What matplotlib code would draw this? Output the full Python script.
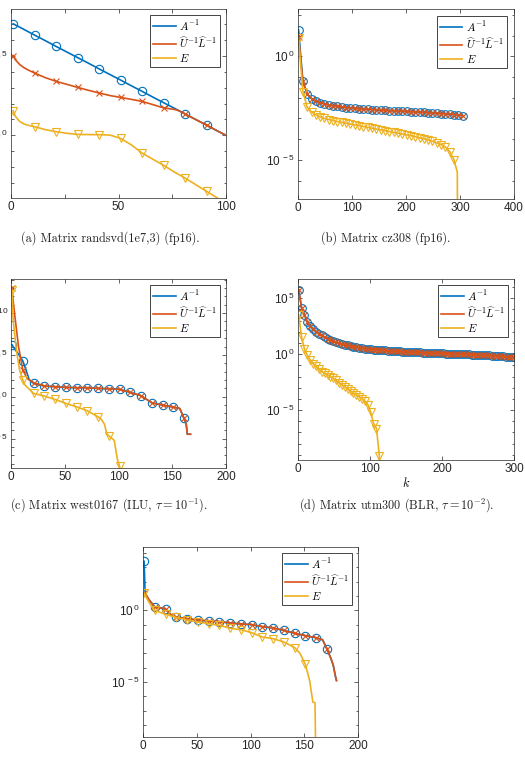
import numpy as np
import matplotlib
matplotlib.use('Agg')
import matplotlib.pyplot as plt
from matplotlib.ticker import FixedLocator, FixedFormatter, NullFormatter
from matplotlib.lines import Line2D
from matplotlib.font_manager import FontProperties

plt.rcParams['font.family'] = ['Liberation Sans', 'DejaVu Sans']

C_A = '#0072BD'
C_LU = '#D95319'
C_E = '#EDB120'

LABELS = [r'$A^{-1}$', r'$\widehat{U}^{-1}\widehat{L}^{-1}$', r'$E$']

# ---------------- data (log10 of singular values) ----------------
# (a) randsvd(1e7,3)
a_k_A = [1, 6, 11, 16, 21, 26, 31, 36, 41, 46, 51, 56, 61, 66, 71, 76, 81, 86, 91, 96, 100]
a_A = [7.0, 6.65, 6.29, 5.94, 5.58, 5.23, 4.88, 4.53, 4.17, 3.82, 3.47, 3.11, 2.76, 2.40,
       2.05, 1.70, 1.34, 0.99, 0.64, 0.28, 0.0]
a_k_LU = [1, 2, 4, 6, 8, 11, 16, 21, 26, 31, 36, 41, 46, 51, 56, 61, 66, 71, 76, 78, 81, 86, 91, 96, 100]
a_LU = [5.0, 4.75, 4.45, 4.25, 4.1, 3.91, 3.62, 3.39, 3.2, 3.01, 2.83, 2.66, 2.5, 2.38, 2.26,
        2.13, 1.93, 1.72, 1.63, 1.55, 1.34, 0.99, 0.64, 0.28, 0.0]
a_k_E = [1, 2, 4, 6, 8, 11, 16, 21, 26, 31, 36, 41, 46, 51, 56, 61, 66, 71, 76, 81, 86, 91, 96, 100]
a_E = [1.55, 1.2, 0.88, 0.72, 0.63, 0.54, 0.36, 0.23, 0.13, 0.06, 0.05, 0.04, 0.02, -0.19,
       -0.6, -1.11, -1.5, -1.88, -2.3, -2.68, -3.1, -3.51, -3.93, -4.25]

# (b) cz308
b_k_A = [1, 9, 17, 25, 33, 41, 49, 57, 65, 73, 81, 89, 97, 105, 113, 121, 129, 137, 145, 153,
         161, 169, 177, 185, 193, 201, 209, 217, 225, 233, 241, 249, 257, 265, 273, 281, 289, 297, 305]
b_A = [1.29, -1.2, -1.82, -2.04, -2.15, -2.23, -2.29, -2.34, -2.38, -2.42, -2.45, -2.47, -2.49,
       -2.51, -2.52, -2.54, -2.55, -2.57, -2.58, -2.59, -2.61, -2.62, -2.63, -2.64, -2.65, -2.66,
       -2.67, -2.68, -2.69, -2.70, -2.72, -2.73, -2.74, -2.76, -2.77, -2.79, -2.81, -2.83, -2.86]
b_k_LU = b_k_A
b_LU = [0.95, -1.2, -1.82, -2.04, -2.15, -2.23, -2.29, -2.34, -2.38, -2.42, -2.45, -2.47, -2.49,
        -2.51, -2.52, -2.54, -2.55, -2.57, -2.58, -2.59, -2.61, -2.62, -2.63, -2.64, -2.65, -2.66,
        -2.67, -2.68, -2.69, -2.70, -2.72, -2.73, -2.74, -2.76, -2.77, -2.79, -2.81, -2.83, -2.86]
b_k_E = [1, 9, 17, 25, 33, 41, 49, 57, 65, 73, 81, 89, 97, 105, 113, 121, 129, 137, 145, 153,
         161, 169, 177, 185, 193, 201, 209, 217, 225, 233, 241, 249, 257, 265, 273, 281, 289, 295, 296]
b_E = [0.9, -1.7, -2.45, -2.68, -2.82, -2.92, -3.0, -3.05, -3.1, -3.15, -3.19, -3.23, -3.27,
       -3.31, -3.35, -3.39, -3.43, -3.47, -3.51, -3.55, -3.59, -3.63, -3.67, -3.71, -3.75, -3.79,
       -3.83, -3.88, -3.93, -3.98, -4.04, -4.1, -4.17, -4.26, -4.38, -4.6, -5.0, -5.6, -12.0]

# (c) west0167
c_k_A = [1, 4, 7, 11, 14, 17, 21, 31, 41, 51, 61, 71, 81, 91, 101, 111, 121, 131, 141, 151,
         157, 161, 163, 164, 167]
c_A = [6.2, 5.6, 5.1, 4.28, 3.2, 2.0, 1.6, 1.28, 1.2, 1.12, 1.08, 1.08, 1.0, 0.96, 0.88, 0.52,
       0.12, -0.72, -1.0, -1.24, -1.4, -2.6, -3.3, -4.48, -4.48]
c_k_LU = [1, 2, 4, 7, 11, 15, 21, 31, 41, 51, 61, 71, 81, 91, 101, 111, 121, 131, 141, 151,
          157, 161, 163, 164, 167]
c_LU = [13.0, 11.5, 9.2, 6.0, 3.2, 2.2, 1.68, 1.28, 1.2, 1.12, 1.08, 1.08, 1.0, 0.96, 0.88,
        0.52, 0.12, -0.72, -1.0, -1.24, -1.4, -2.6, -3.3, -4.48, -4.48]
c_k_E = [1, 2, 5, 8, 11, 13, 21, 31, 41, 51, 61, 71, 81, 84, 87, 89, 91, 93, 96, 99, 101, 102]
c_E = [12.8, 9.2, 5.6, 3.2, 2.0, 1.4, 0.4, 0.08, -0.32, -0.8, -1.2, -1.68, -2.4, -2.7, -3.3,
       -4.4, -4.68, -4.9, -5.2, -7.5, -8.32, -9.5]

# (d) utm300
d_k_A = [1, 5, 9, 13, 17, 21, 25, 29, 33, 37, 41, 45, 49, 53, 57, 61, 65, 69, 73, 77, 81, 85,
         89, 93, 97, 101, 105, 109, 113, 117, 121, 125, 129, 133, 137, 141, 145, 149, 153, 157,
         161, 165, 169, 173, 177, 181, 185, 189, 193, 197, 201, 205, 209, 213, 217, 221, 225,
         229, 233, 237, 241, 245, 249, 253, 257, 261, 265, 269, 273, 277, 281, 285, 289, 293,
         297, 300]
d_A = [5.76, 4.12, 3.52, 2.85, 2.5, 2.25, 2.02, 1.83, 1.67, 1.52, 1.38, 1.26, 1.15, 1.06, 0.98,
       0.91, 0.84, 0.78, 0.72, 0.67, 0.62, 0.58, 0.54, 0.5, 0.47, 0.44, 0.41, 0.39, 0.37, 0.35,
       0.33, 0.31, 0.29, 0.27, 0.25, 0.24, 0.22, 0.21, 0.19, 0.18, 0.17, 0.16, 0.15, 0.14, 0.13,
       0.12, 0.11, 0.1, 0.09, 0.08, 0.07, 0.06, 0.05, 0.04, 0.03, 0.02, 0.01, 0.0, -0.01, -0.02,
       -0.03, -0.04, -0.05, -0.06, -0.08, -0.09, -0.1, -0.12, -0.13, -0.15, -0.17, -0.19, -0.21,
       -0.23, -0.25, -0.27]
d_k_LU = d_k_A
d_LU = d_A
d_k_E = [1, 5, 9, 13, 17, 21, 25, 29, 33, 37, 41, 45, 49, 53, 57, 61, 65, 69, 73, 77, 81, 85,
         89, 93, 97, 101, 105, 109, 113, 114]
d_E = [3.5, 1.5, 0.45, -0.1, -0.5, -0.85, -1.05, -1.3, -1.55, -1.7, -1.85, -2.0, -2.15, -2.35,
       -2.55, -2.72, -2.9, -3.1, -3.28, -3.45, -3.62, -3.8, -3.97, -4.2, -4.5, -5.2, -6.2, -6.65,
       -9.1, -12.0]

# (e)
e_k_A = [1, 2, 3, 6, 11, 16, 21, 26, 31, 41, 51, 61, 71, 81, 91, 101, 111, 121, 131, 141, 151,
         161, 167, 171, 175, 177, 179, 180]
e_A = [3.42, 1.16, 1.05, 0.7, 0.23, 0.18, 0.07, -0.3, -0.47, -0.58, -0.68, -0.74, -0.79, -0.88,
       -0.95, -1.0, -1.14, -1.23, -1.4, -1.6, -1.77, -1.91, -2.05, -2.67, -3.4, -3.84, -4.6, -4.9]
e_k_LU = e_k_A
e_LU = [1.2, 1.1, 1.05, 0.7, 0.23, 0.18, 0.07, -0.3, -0.47, -0.58, -0.68, -0.74, -0.79, -0.88,
        -0.95, -1.0, -1.14, -1.23, -1.4, -1.6, -1.77, -1.91, -2.05, -2.67, -3.4, -3.84, -4.6, -4.9]
e_k_E = [1, 6, 11, 21, 31, 41, 51, 61, 71, 81, 91, 101, 111, 121, 131, 141, 146, 151, 155, 158,
         160, 161]
e_E = [1.2, 0.5, 0.0, -0.28, -0.5, -0.67, -0.81, -0.93, -1.05, -1.25, -1.35, -1.56, -1.86,
       -1.98, -2.21, -2.6, -3.0, -3.77, -4.9, -6.4, -6.45, -12.0]

captions = [r'(a) Matrix randsvd(1e7,3) (fp16).',
            r'(b) Matrix cz308 (fp16).',
            r'(c) Matrix west0167 (ILU, $\tau = 10^{-1}$).',
            r'(d) Matrix utm300 (BLR, $\tau = 10^{-2}$).']

# ---------------- figure ----------------
W, H = 525, 758
fig = plt.figure(figsize=(W / 100, H / 100), dpi=100)


def axes_px(left, right, top, bottom):
    return fig.add_axes([left / W, 1 - bottom / H, (right - left) / W, (bottom - top) / H])


def series(ax, k, lv, color, marker, mark_ks, ms):
    idx = [i for i, kk in enumerate(k) if kk in mark_ks]
    ax.plot(k, 10.0 ** np.array(lv), color=color, lw=1.2, marker=marker, markevery=idx,
            ms=ms, mfc='none', mec=color, mew=0.8, clip_on=True)


def style(ax, xlim, xticks, xticklabels, ylim, ymaj, leg_pad):
    ax.set_yscale('log')
    ax.set_xlim(*xlim)
    ax.set_ylim(10.0 ** ylim[0], 10.0 ** ylim[1])
    ax.set_xticks(xticks)
    ax.set_xticklabels(xticklabels)
    ax.yaxis.set_major_locator(FixedLocator([10.0 ** e for e in ymaj]))
    ax.yaxis.set_major_formatter(FixedFormatter([r'$\mathdefault{10^{\,%d}}$' % e for e in ymaj]))
    lo, hi = int(np.ceil(ylim[0])), int(np.floor(ylim[1]))
    ax.yaxis.set_minor_locator(FixedLocator([10.0 ** e for e in range(lo, hi + 1)]))
    ax.yaxis.set_minor_formatter(NullFormatter())
    ax.xaxis.set_minor_locator(FixedLocator([]))
    ax.tick_params(which='both', direction='in', top=True, right=True, width=0.5,
                   colors='#262626', labelsize=8.5, pad=2)
    ax.tick_params(which='major', length=3)
    ax.tick_params(which='minor', length=1.8)
    for s in ax.spines.values():
        s.set_linewidth(0.5)
        s.set_color('#262626')
    handles = [Line2D([], [], color=c, lw=1.2) for c in (C_A, C_LU, C_E)]
    leg = ax.legend(handles, LABELS, loc='upper right',
                    prop=FontProperties(size=8, math_fontfamily='cm'),
                    frameon=True, fancybox=False, framealpha=1, edgecolor='#262626',
                    borderaxespad=leg_pad, handlelength=2.0, handletextpad=0.3,
                    labelspacing=0.2, borderpad=0.3)
    leg.get_frame().set_linewidth(0.6)


def panel(ax, kA, vA, kL, vL, kE, vE, marks, ms):
    series(ax, kA, vA, C_A, 'o', marks, ms)
    series(ax, kL, vL, C_LU, 'x', marks, ms * 0.8)
    series(ax, kE, vE, C_E, 'v', marks, ms)


# (a)
ax = axes_px(11, 226, 9, 198)
panel(ax, a_k_A, a_A, a_k_LU, a_LU, a_k_E, a_E, set(range(1, 100, 10)), 6)
style(ax, (0, 100), [0, 25, 50, 75, 100], ['0', '', '50', '', '100'], (-3.93, 7.93), [0, 5], 0.5)

# (b)
ax = axes_px(298, 514, 9, 199)
panel(ax, b_k_A, b_A, b_k_LU, b_LU, b_k_E, b_E, set(range(1, 306, 8)), 5.5)
style(ax, (0, 400), [0, 100, 200, 300, 400], ['0', '100', '200', '300', '400'],
      (-6.89, 2.29), [-5, 0], 0.6)

# (c)
ax = axes_px(11, 226, 279, 468)
panel(ax, c_k_A, c_A, c_k_LU, c_LU, c_k_E, c_E, set(range(1, 168, 10)), 6)
style(ax, (0, 200), [0, 50, 100, 150, 200], ['0', '50', '100', '150', '200'],
      (-8.52, 14.08), [-5, 0, 5, 10], 0.5)

# (d)
ax = axes_px(298, 514, 279, 460)
panel(ax, d_k_A, d_A, d_k_LU, d_LU, d_k_E, d_E, set(range(1, 301, 4)) | {300}, 5.5)
style(ax, (0, 300), [0, 100, 200, 300], ['0', '100', '200', '300'],
      (-9.46, 6.72), [-5, 0, 5], 0.5)
ax.set_xlabel('$k$', fontsize=9, math_fontfamily='cm', labelpad=1)

# (e)
ax = axes_px(143, 358, 547, 737)
panel(ax, e_k_A, e_A, e_k_LU, e_LU, e_k_E, e_E, set(range(1, 172, 10)), 6)
style(ax, (0, 200), [0, 50, 100, 150, 200], ['0', '50', '100', '150', '200'],
      (-8.84, 4.42), [-5, 0], 0.5)

# captions
cap_pos = [(110, 238), (386, 238), (109, 505), (397, 505)]
for (x, y), t in zip(cap_pos, captions):
    fig.text(x / W, 1 - y / H, t, ha='center', va='center', fontsize=8.8,
             family='cmr10', math_fontfamily='cm', color='#222222')

fig.savefig('out.png', dpi=100)
